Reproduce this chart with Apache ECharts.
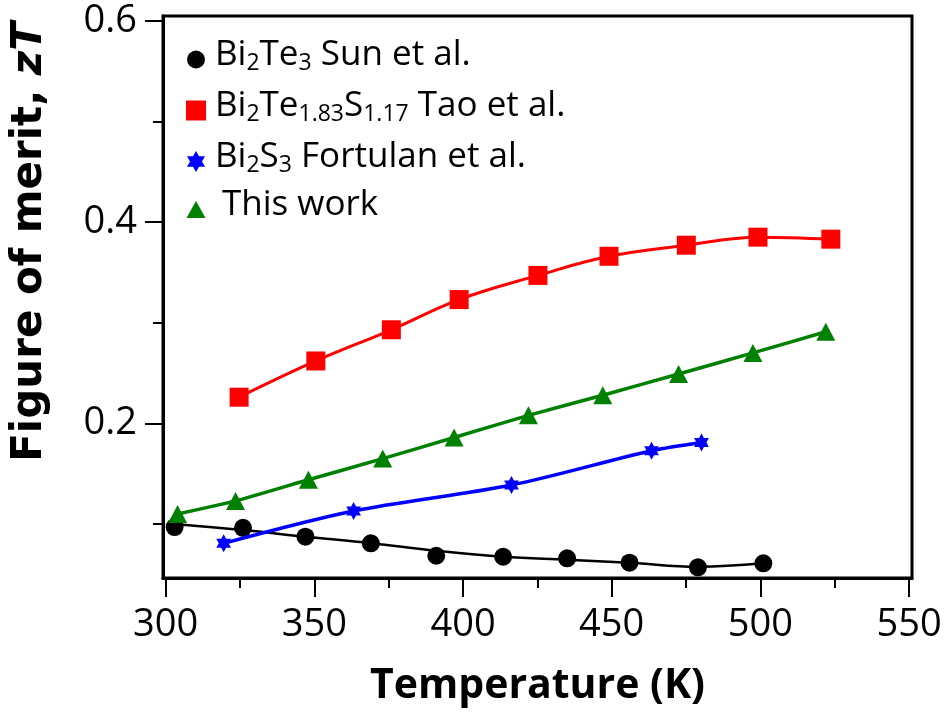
<!DOCTYPE html>
<html>
<head>
<meta charset="utf-8">
<script src="https://cdn.jsdelivr.net/npm/echarts@6/dist/echarts.min.js"></script>
<style>
  html, body { margin: 0; padding: 0; background: #fff; }
  #chart { width: 948px; height: 715px; }
</style>
</head>
<body>
<div id="chart"></div>
<script>
// Bi2Te3, Sun et al. (measured points and the smooth guide curve through them)
const sunT     = [303, 326, 347, 369, 391, 413.5, 435, 456, 479, 501];
const sunZT    = [0.097, 0.0963, 0.0874, 0.0808, 0.0685, 0.0675, 0.0659, 0.0616, 0.057, 0.061];
const sunFitZT = [0.100, 0.094, 0.0874, 0.081, 0.0735, 0.0675, 0.0645, 0.0616, 0.0576, 0.061];
// Bi2Te1.83S1.17, Tao et al.
const taoT  = [324.7, 350.5, 375.9, 398.7, 425.2, 449.1, 475.1, 499.2, 523.7];
const taoZT = [0.226, 0.262, 0.293, 0.323, 0.347, 0.366, 0.377, 0.385, 0.383];
// Bi2S3, Fortulan et al.
const fortT  = [319.5, 363.2, 416.3, 463.4, 480.2];
const fortZT = [0.0808, 0.1129, 0.1387, 0.1728, 0.1811];
// This work
const workT  = [304, 323.5, 348, 373, 397, 422, 447, 472.5, 497.5, 522];
const workZT = [0.110, 0.123, 0.144, 0.165, 0.186, 0.208, 0.228, 0.249, 0.270, 0.291];

// Axis ticks
const xMajorTicks = [300, 350, 400, 450, 500, 550];
const xMinorTicks = [325, 375, 425, 475, 525];
const yMajorTicks = [0.2, 0.4, 0.6];
const yMinorTicks = [0.1, 0.3, 0.5];

const seriesNames = ['Bi2Te3 Sun et al.', 'Bi2Te1.83S1.17 Tao et al.', 'Bi2S3 Fortulan et al.', 'This work'];
const legendRich = {
  'Bi2Te3 Sun et al.': '{n|Bi}{s|2}{n|Te}{s|3}{n| Sun et al.}',
  'Bi2Te1.83S1.17 Tao et al.': '{n|Bi}{s|2}{n|Te}{s|1.83}{n|S}{s|1.17}{n| Tao et al.}',
  'Bi2S3 Fortulan et al.': '{n|Bi}{s|2}{n|S}{s|3}{n| Fortulan et al.}',
  'This work': '{n|This work}'
};

const FONT = 'Open Sans';
const pair = (xs, ys) => xs.map((x, i) => [x, ys[i]]);

const circlePath = 'path://M10,0 A10,10 0 1,1 10,20 A10,10 0 1,1 10,0 Z';
const starPath = 'path://M0,-10 L2.887,-5 L8.66,-5 L5.774,0 L8.66,5 L2.887,5 L0,10 L-2.887,5 L-8.66,5 L-5.774,0 L-8.66,-5 L-2.887,-5 Z';
const squarePath = 'path://M0,0 L10,0 L10,10 L0,10 Z';
const triPath = 'path://M0,0 L10,18 L-10,18 Z';

const X_MIN = 299.1, X_MAX = 551;
const Y_MIN = 0.0464, Y_MAX = 0.6047;

const ROW_H = 52;
function legendRow(name, icon, w, top, textLeft) {
  const pad = textLeft - (196 + w / 2 + 5);
  return {
    data: [{ name: name, icon: icon }],
    left: 196 - w / 2,
    top: top,
    padding: 0,
    itemWidth: w,
    itemHeight: ROW_H,
    symbolKeepAspect: true,
    selectedMode: false,
    formatter: (n) => legendRich[n],
    textStyle: {
      padding: [0, 0, 8, pad],
      rich: {
        n: { fontFamily: FONT, fontSize: 35, color: '#000', lineHeight: 42 },
        s: { fontFamily: FONT, fontSize: 23, color: '#000', lineHeight: 24, padding: [16, 0, 0, 0] }
      }
    }
  };
}

const chart = echarts.init(document.getElementById('chart'), null, { renderer: 'canvas' });

const axisCommon = {
  type: 'value',
  splitLine: { show: false },
  axisLine: { show: true, lineStyle: { color: '#000', width: 3 } }
};

chart.setOption({
  animation: false,
  backgroundColor: '#fff',
  grid: {
    left: 163, right: 36, top: 16, bottom: 137,
    containLabel: false, outerBoundsMode: 'none',
    show: true, borderColor: '#000', borderWidth: 3, backgroundColor: 'transparent'
  },
  legend: [
    legendRow(seriesNames[0], circlePath, 18, 36, 215),
    legendRow(seriesNames[1], squarePath, 20, 87, 215),
    legendRow(seriesNames[2], starPath, 18, 138, 215),
    legendRow(seriesNames[3], triPath, 19, 188, 222)
  ],
  xAxis: [
    Object.assign({}, axisCommon, {
      min: X_MIN, max: X_MAX,
      name: 'Temperature (K)',
      nameLocation: 'middle',
      nameGap: 88,
      nameTextStyle: { fontFamily: FONT, fontWeight: 'bold', fontSize: 41, color: '#000' },
      axisTick: { show: true, customValues: xMajorTicks, length: 19, lineStyle: { color: '#000', width: 2 } },
      axisLabel: { show: true, customValues: xMajorTicks, margin: 28, fontFamily: FONT, fontSize: 38, color: '#000' }
    }),
    Object.assign({}, axisCommon, {
      min: X_MIN, max: X_MAX, position: 'bottom', offset: 0,
      axisLine: { show: false },
      axisTick: { show: true, customValues: xMinorTicks, length: 10, lineStyle: { color: '#000', width: 2 } },
      axisLabel: { show: false }
    })
  ],
  yAxis: [
    Object.assign({}, axisCommon, {
      min: Y_MIN, max: Y_MAX,
      axisTick: { show: true, customValues: yMajorTicks, length: 18, lineStyle: { color: '#000', width: 2 } },
      axisLabel: {
        show: true, customValues: yMajorTicks, margin: 26,
        fontFamily: FONT, fontSize: 38, color: '#000',
        formatter: (v) => v.toFixed(1)
      }
    }),
    Object.assign({}, axisCommon, {
      min: Y_MIN, max: Y_MAX, position: 'left', offset: 0,
      axisLine: { show: false },
      axisTick: { show: true, customValues: yMinorTicks, length: 10, lineStyle: { color: '#000', width: 2 } },
      axisLabel: { show: false }
    })
  ],
  graphic: [{
    type: 'text',
    x: 30, y: 242,
    rotation: Math.PI / 2,
    style: {
      text: '{b|Figure of merit, }{i|zT}',
      align: 'center', verticalAlign: 'middle',
      rich: {
        b: { fontFamily: 'DejaVu Sans', fontWeight: 'bold', fontSize: 42, fill: '#000' },
        i: { fontFamily: 'DejaVu Sans', fontWeight: 'bold', fontStyle: 'italic', fontSize: 42, fill: '#000' }
      }
    }
  }],
  series: [
    {
      name: seriesNames[0], type: 'line', data: pair(sunT, sunFitZT),
      smooth: 0.4, symbol: 'none', silent: true,
      lineStyle: { color: '#000', width: 2.5 }, itemStyle: { color: '#000' }
    },
    {
      name: seriesNames[0], type: 'scatter', data: pair(sunT, sunZT),
      symbol: 'circle', symbolSize: 18, itemStyle: { color: '#000', opacity: 1 }
    },
    {
      name: seriesNames[1], type: 'line', data: pair(taoT, taoZT),
      smooth: 0.4, symbol: 'rect', symbolSize: 19,
      itemStyle: { color: '#ff0000' }, lineStyle: { color: '#ff0000', width: 3 }
    },
    {
      name: seriesNames[2], type: 'line', data: pair(fortT, fortZT),
      smooth: 0.3, symbol: starPath, symbolSize: [17, 18], symbolKeepAspect: true,
      itemStyle: { color: '#0000ff' }, lineStyle: { color: '#0000ff', width: 3.5 }
    },
    {
      name: seriesNames[3], type: 'line', data: pair(workT, workZT),
      smooth: 0.2, symbol: 'triangle', symbolSize: [19, 18],
      itemStyle: { color: '#008000' }, lineStyle: { color: '#008000', width: 3.5 }
    }
  ]
});
</script>
</body>
</html>
